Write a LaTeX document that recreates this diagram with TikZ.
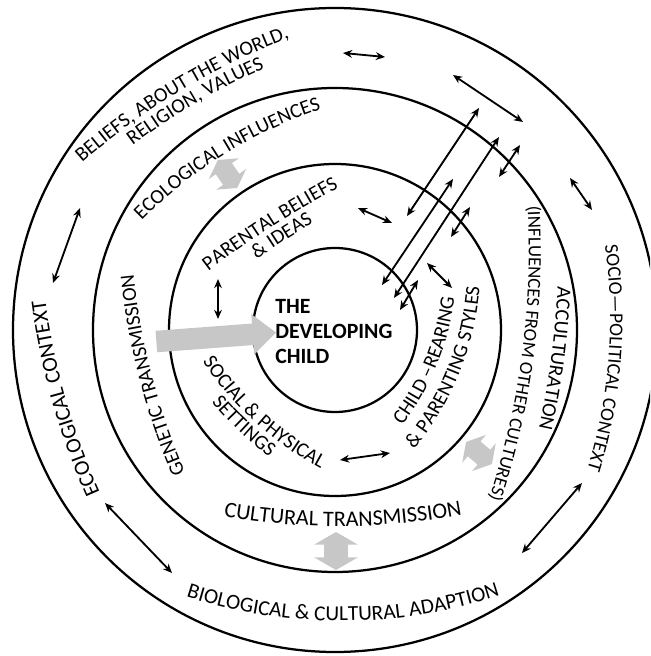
\documentclass[tikz,border=0pt]{standalone}
\usepackage{fontspec}
\setmainfont{Carlito}
\usetikzlibrary{arrows.meta,decorations.text,shapes.arrows}
\newdimen\pxu \pxu=0.025cm
% text on an arc: [size], centre x, centre y, radius, start, end, text
\newcommand{\arctext}[7][14.5]{%
  \path[decorate,decoration={text along path,text align=center,text={|\fontsize{#1}{16}\selectfont|#7}}]
    (#2,#3) ++(#5:#4) arc[start angle=#5,end angle=#6,radius=#4];}
\tikzset{
  ring/.style={line width=1.6pt},
  link/.style={<->,line width=1.3pt},
  flowtwo/.style={double arrow,fill=black!22,inner xsep=0pt,inner ysep=9.5\pxu,
    minimum height=34\pxu,double arrow head extend=8.5\pxu,double arrow tip angle=120},
  flowone/.style={single arrow,fill=black!22,inner xsep=0pt,inner ysep=10.5\pxu,
    minimum height=120\pxu,single arrow head extend=9.5\pxu,single arrow tip angle=82}
}
\begin{document}
\begin{tikzpicture}[x=0.025cm,y=0.025cm,>={Stealth[length=6.5pt,width=5.5pt]}]
    \useasboundingbox (-335,-326) rectangle (315,330);
    \clip (-335,-326) rectangle (315,330);
    \coordinate (o) at (0,0);
    \foreach \r in {82,166,242,322} { \draw[ring] (o) circle[radius=\r]; }
    % gray flows
    \node[flowone,rotate=4.3] (genflow) at (-125,-7.5) {};
    \node[flowtwo,rotate=124.6] (ecoflow) at (-107.5,156) {};
    \node[flowtwo,rotate=-40.5] (accflow) at (144,-123) {};
    \node[flowtwo,rotate=90,inner ysep=11.5\pxu,minimum height=38\pxu,double arrow head extend=10\pxu] (cultflow) at (1,-221) {};
    % two-way links
    \foreach \n/\ax/\ay/\bx/\by in {1/8/277/50/273, 2/118/255/188/208, 3/144/222/72/114, 4/118/151/47/45,
        5/164/193/59/32, 6/185/185/164/153, 7/235/152/257/120, 8/23/122/57/107, 9/135/123/116/93,
        10/92/67/117/42, 11/83/50/65/20, 12/-255/122/-282/47, 13/-117/51/-117/11,
        14/-230/-173/-163/-243, 15/5/-130/55/-123, 16/247/-153/187/-223}
        {
            \coordinate (a\n) at (\ax,\ay);
            \coordinate (b\n) at (\bx,\by);
            \draw[link] (a\n) -- (b\n);
        }
    \node[anchor=west,inner sep=0pt,align=left,font=\bfseries\fontsize{15.5}{17.8}\selectfont] (child) at (-60,-1.5) {THE\\DEVELOPING\\CHILD};
    % outer ring
    \arctext{202.5}{-355.6}{693.5}{136}{106}{BELIEFS, ABOUT THE WORLD,}
    \arctext{202.5}{-355.6}{675}{133}{107.7}{RELIGION, VALUES}
    \arctext[15.5]{397.4}{120.3}{693}{209.8}{181.8}{ECOLOGICAL CONTEXT}
    \arctext[13.8]{-238.4}{11.6}{513.5}{14.5}{-23.5}{SOCIO—POLITICAL CONTEXT}
    \arctext[15.2]{6.4}{216}{507}{243}{297.4}{BIOLOGICAL {\&} CULTURAL ADAPTION}
    % middle ring
    \arctext{123.1}{-201.4}{443.5}{142}{101.5}{ECOLOGICAL INFLUENCES}
    \arctext{463.7}{123.2}{668.5}{209.6}{179.6}{GENETIC TRANSMISSION}
    \arctext{-596.2}{78.9}{819.5}{2.5}{-17.5}{ACCULTURATION}
    \arctext[13.3]{-596.2}{78.9}{790}{8}{-23}{(INFLUENCES FROM OTHER CULTURES)}
    \arctext[15.8]{4.5}{462.6}{659}{252}{288.6}{CULTURAL TRANSMISSION}
    % inner ring
    \arctext{473.7}{-732.9}{993.5}{131}{114.4}{PARENTAL BELIEFS}
    \arctext{473.7}{-732.9}{975}{128}{117}{{\&} IDEAS}
    \arctext{-140.1}{63.9}{261.5}{-46}{1.5}{CHILD –REARING}
    \arctext{-140.1}{63.9}{285.5}{-46}{2}{{\&} PARENTING STYLES}
    \arctext{141.9}{151.2}{329.5}{207}{248.4}{SOCIAL {\&} PHYSICAL}
    \arctext{141.9}{151.2}{347}{214}{239.4}{SETTINGS}
\end{tikzpicture}
\end{document}
